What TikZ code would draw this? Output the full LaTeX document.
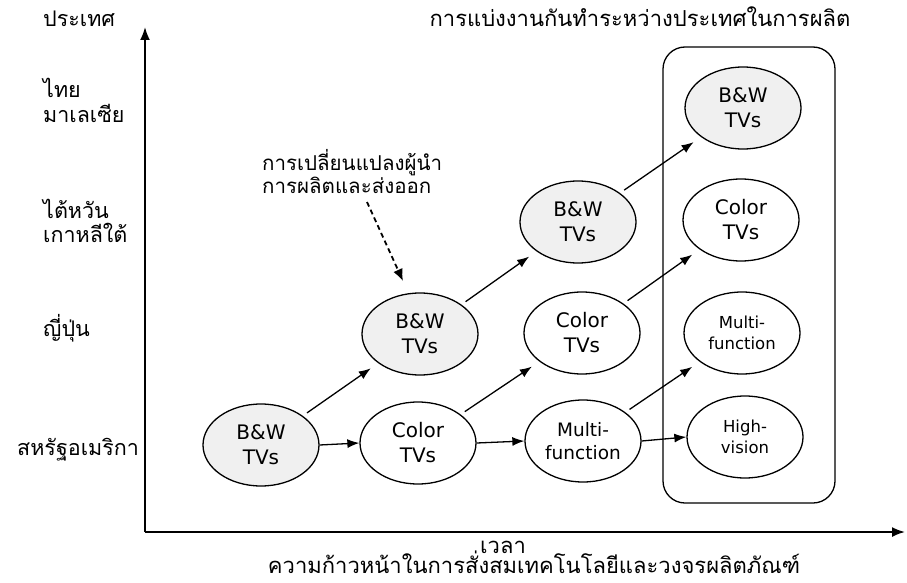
\documentclass[tikz,border=0pt]{standalone}
\usepackage{fontspec}
\setmainfont{DejaVu Sans}
\newfontfamily\thaifont[Script=Thai]{Loma}
\usetikzlibrary{arrows.meta,shapes.geometric}

\tikzset{
  tv/.style={ellipse, draw, line width=1.3pt, fill=white, minimum width=116pt,
             minimum height=82pt, inner sep=0pt, align=center,
             font=\fontsize{20}{25}\selectfont},
  bw/.style={tv, fill=black!6},
  midtv/.style={font=\fontsize{18.5}{23}\selectfont},
  smalltv/.style={font=\fontsize{16.5}{21}\selectfont},
  thai/.style={font=\thaifont\fontsize{22}{25}\selectfont, inner sep=0pt, anchor=base west},
  country/.style={thai, font=\thaifont\fontsize{21.5}{25}\selectfont},
  notetext/.style={thai, font=\thaifont\fontsize{20.5}{25}\selectfont},
  axis/.style={line width=1.8pt, -{Latex[length=13pt,width=10pt]}},
  flow/.style={line width=1.3pt, -{Latex[length=12pt,width=9pt]}},
  moveon/.style={flow, shorten <=5pt, shorten >=9pt},
  lead/.style={line width=1.8pt, dash pattern=on 5pt off 3.5pt,
               -{Latex[length=12pt,width=10pt]}}
}

\begin{document}
\begin{tikzpicture}[x=1pt, y=-1pt]
  \useasboundingbox (0,0) rectangle (907,583);

  % axes
  \coordinate (origin) at (145,532);
  \coordinate (ytip) at (145,27);
  \coordinate (xtip) at (905,532);
  \draw[axis] (origin) -- (ytip);
  \draw[axis] (origin) -- (xtip);

  % axis captions
  \node[country] (ylab) at (43,27) {ประเทศ};
  \node[thai, anchor=base] (xlab) at (503,553) {เวลา};
  \node[thai, anchor=base] (xlab2) at (534,573) {ความก้าวหน้าในการสั่งสมเทคโนโลยีและวงจรผลิตภัณฑ์};
  \node[thai, anchor=base] (title) at (640,27) {การแบ่งงานกันทำระหว่างประเทศในการผลิต};

  % countries
  \node[country] (th) at (43,98) {ไทย};
  \node[country] (my) at (43,123) {มาเลเซีย};
  \node[country] (tw) at (43,218) {ไต้หวัน};
  \node[country] (kr) at (43,242) {เกาหลีใต้};
  \node[country] (jp) at (43,336) {ญี่ปุ่น};
  \node[country] (us) at (17,455) {สหรัฐอเมริกา};

  % present-day division of production
  \node[draw, line width=1.3pt, rounded corners=22pt, minimum width=172pt,
        minimum height=456pt] (panel) at (749,275) {};

  % product nodes
  \node[bw] (b1) at (261,445) {B\&W\\TVs};
  \node[tv] (c1) at (418,443) {Color\\TVs};
  \node[tv, midtv] (m1) at (583,441) {Multi-\\function};
  \node[bw] (b2) at (420,334) {B\&W\\TVs};
  \node[tv] (c2) at (582,333) {Color\\TVs};
  \node[bw] (b3) at (578,222) {B\&W\\TVs};
  \node[bw] (bR) at (743,108) {B\&W\\TVs};
  \node[tv] (cR) at (741,220) {Color\\TVs};
  \node[tv, smalltv] (mR) at (742,333) {Multi-\\function};
  \node[tv, smalltv] (hR) at (745,437) {High-\\vision};

  % new products in the leading country
  \draw[flow] (b1.east) -- (c1.west);
  \draw[flow] (c1.east) -- (m1.west);
  \draw[flow] (m1.east) -- (hR.west);

  % production moving on to follower countries
  \draw[moveon] (b1) -- (b2);
  \draw[moveon] (b2) -- (b3);
  \draw[moveon] (b3) -- (bR);
  \draw[moveon] (c1) -- (c2);
  \draw[moveon] (c2) -- (cR);
  \draw[moveon] (m1) -- (mR);

  % note on the shift of leadership
  \node[notetext] (note1) at (262,170) {การเปลี่ยนแปลงผู้นำ};
  \node[notetext] (note2) at (262,193) {การผลิตและส่งออก};
  \coordinate (notefoot) at (367,202);
  \coordinate (noteend) at (403,281);
  \draw[lead] (notefoot) -- (noteend);
\end{tikzpicture}
\end{document}
